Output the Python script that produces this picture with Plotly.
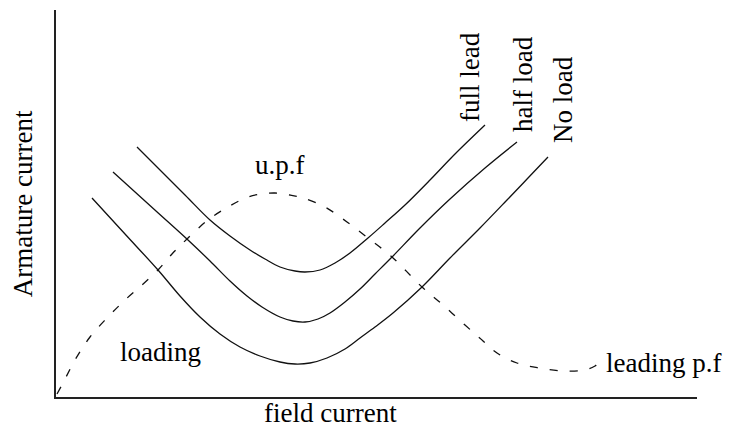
import plotly.graph_objects as go

# V-curves of a synchronous motor: armature current against field current
# (arbitrary units), for three load levels, plus the unity-power-factor locus.

full_x = [81, 129, 154, 174, 194, 209, 224, 239, 249, 264, 279, 294, 312, 329, 349, 374, 399, 429]
full_y = [250, 202, 177, 161, 147, 138, 130, 126, 125, 127, 134, 144, 159, 174, 192, 217, 243, 272]

half_x = [57, 100, 132, 154, 174, 191, 206, 224, 237, 249, 262, 274, 289, 304, 319, 336, 364, 394, 429, 461]
half_y = [225, 186, 157, 136, 116, 101, 90, 80, 76, 75, 78, 84, 95, 108, 123, 140, 169, 198, 229, 255]

noload_x = [36, 69, 102, 124, 144, 164, 184, 204, 224, 239, 254, 271, 289, 304, 319, 337, 366, 394, 424, 451, 472, 492]
noload_y = [199, 163, 127, 101, 80, 63, 50, 41, 35, 33, 34, 39, 48, 59, 70, 84, 110, 139, 169, 197, 219, 240]

upf_x = [1, 7, 19, 34, 51, 69, 86, 102, 116, 131, 152, 172, 192, 206, 219, 234, 247, 269, 291,
         312, 336, 366, 387, 409, 426, 441, 461, 483, 508, 529, 539, 546]
upf_y = [3, 14, 37, 60, 79, 97, 112, 127, 143, 158, 177, 190, 200, 203, 204, 202, 199, 190, 175,
         159, 140, 110, 92, 72, 57, 44, 34, 29, 26, 27, 31, 37]

W, H = 735, 434
FONT = "Liberation Serif"
INK = "#111111"

fig = go.Figure()

for xs, ys in [(full_x, full_y), (half_x, half_y), (noload_x, noload_y)]:
    fig.add_trace(go.Scatter(
        x=xs, y=ys, mode="lines",
        line=dict(color=INK, width=1.3, shape="spline", smoothing=1.0),
        hoverinfo="skip", showlegend=False,
    ))

fig.add_trace(go.Scatter(
    x=upf_x, y=upf_y, mode="lines",
    line=dict(color=INK, width=1.3, dash="8px,12px", shape="spline", smoothing=1.0),
    hoverinfo="skip", showlegend=False,
))

# curve and region labels, placed in data units
labels = [
    # text, x, y, angle, xanchor
    ("u.p.f", 224, 232, 0, "center"),
    ("loading", 104, 45, 0, "center"),
    ("leading p.f", 548, 34, 0, "left"),
    ("full lead", 414, 320, -90, "center"),
    ("half load", 467, 313, -90, "center"),
    ("No load", 507, 297, -90, "center"),
]
for text, x, y, ang, xa in labels:
    fig.add_annotation(
        x=x, y=y, xref="x", yref="y", text=text, showarrow=False,
        textangle=ang, xanchor=xa, yanchor="middle",
        font=dict(family=FONT, size=27, color="#000000"),
    )

# axis titles sit outside the plotting area, so they use paper units
fig.add_annotation(
    x=-0.052, y=0.5, xref="paper", yref="paper", text="Armature current",
    showarrow=False, textangle=-90, xanchor="center", yanchor="middle",
    font=dict(family=FONT, size=27, color="#000000"),
)
fig.add_annotation(
    x=0.4275, y=-0.041, xref="paper", yref="paper", text="field current",
    showarrow=False, xanchor="center", yanchor="middle",
    font=dict(family=FONT, size=27, color="#000000"),
)

axis_common = dict(
    showgrid=False, zeroline=False, showticklabels=False, ticks="",
    showline=True, linecolor="#222222", linewidth=2, mirror=False, fixedrange=True,
)

fig.update_layout(
    width=W, height=H,
    margin=dict(l=56, r=38, t=10, b=37),
    paper_bgcolor="white", plot_bgcolor="white",
    xaxis=dict(range=[0, 641], **axis_common),
    yaxis=dict(range=[0, 387], **axis_common),
    showlegend=False,
)

fig.write_html("out.html")
